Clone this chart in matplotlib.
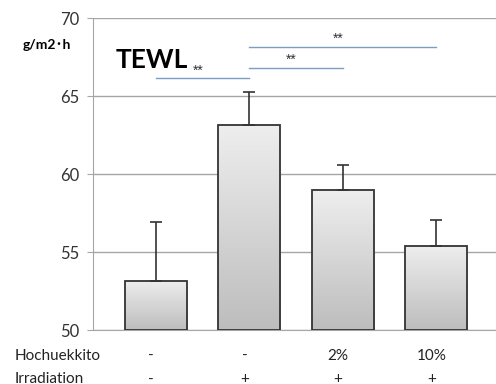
import numpy as np
import matplotlib.pyplot as plt
from matplotlib.patches import Rectangle
from matplotlib.colors import LinearSegmentedColormap

plt.rcParams['font.family'] = ['Lato', 'Noto Sans CJK JP', 'DejaVu Sans']

# TEWL per group
groups = ['ctrl', 'irr', 'irr+2%', 'irr+10%']
tewl = [53.15, 63.15, 58.97, 55.4]
sd = [3.8, 2.1, 1.6, 1.65]
hochuekkito = ['-', '-', '2%', '10%']
irradiation = ['-', '+', '+', '+']

# significance brackets: (from, to, height)
sig_pairs = [(0, 1, 66.15), (1, 2, 66.8), (1, 3, 68.15)]

fig = plt.figure(figsize=(4.96, 3.84), dpi=100)
ax = fig.add_axes([0.1875, 0.1406, 0.8125, 0.8125])

x = np.arange(len(groups))
w = 0.665
grad = np.linspace(0, 1, 256).reshape(-1, 1)
cmap = LinearSegmentedColormap.from_list('bar', ['#bdbdbd', '#eeeeee'])
for xi, v in zip(x, tewl):
    rect = Rectangle((xi - w / 2, 50), w, v - 50, facecolor='none',
                     edgecolor='#333333', linewidth=1.3, zorder=3)
    ax.add_patch(rect)
    im = ax.imshow(grad, cmap=cmap, origin='lower', aspect='auto',
                   extent=(xi - w / 2, xi + w / 2, 50, v), zorder=2)
    im.set_clip_path(rect)

ax.errorbar(x, tewl, yerr=[np.zeros(len(sd)), sd], fmt='none', ecolor='#333333',
            elinewidth=1.2, capsize=4.5, capthick=1.2, zorder=4)

for a, b, h in sig_pairs:
    ax.plot([a, b], [h, h], color='#7f9cc4', linewidth=1.0, zorder=1, clip_on=False)
    ax.text((a + b) / 2 - 0.05, h + 0.05, '**', ha='center', va='bottom', fontsize=10,
            color='#333333', family=['Liberation Sans'])

ax.set_xlim(-0.675, 3.64)
ax.set_ylim(50, 70)
ax.set_yticks([50, 55, 60, 65, 70])
ax.yaxis.grid(True, color='#a6a6a6', linewidth=1.0)
ax.set_axisbelow(True)
ax.set_xticks([])
for s in ['top', 'right']:
    ax.spines[s].set_visible(False)
for s in ['left', 'bottom']:
    ax.spines[s].set_color('#a6a6a6')
ax.tick_params(axis='y', length=4, color='#a6a6a6', labelsize=12, pad=6,
               labelcolor='#333333')

ax.text(0.055, 0.865, 'TEWL', transform=ax.transAxes, fontsize=19,
        fontweight='bold', va='center')
fig.text(0.045, 0.883, 'g/m2･h', fontsize=10, fontweight='bold', va='center')

fig.text(0.03, 0.072, 'Hochuekkito', fontsize=11, va='center', color='#222222')
fig.text(0.03, 0.012, 'Irradiation', fontsize=11, va='center', color='#222222')
for xi, h, r in zip(x, hochuekkito, irradiation):
    xf = ax.transData.transform((xi, 50))[0] / fig.bbox.width - 0.01
    fig.text(xf, 0.072, h, fontsize=11, ha='center', va='center', color='#222222')
    fig.text(xf, 0.012, r, fontsize=11, ha='center', va='center', color='#222222')

fig.savefig('out.png', dpi=100)
